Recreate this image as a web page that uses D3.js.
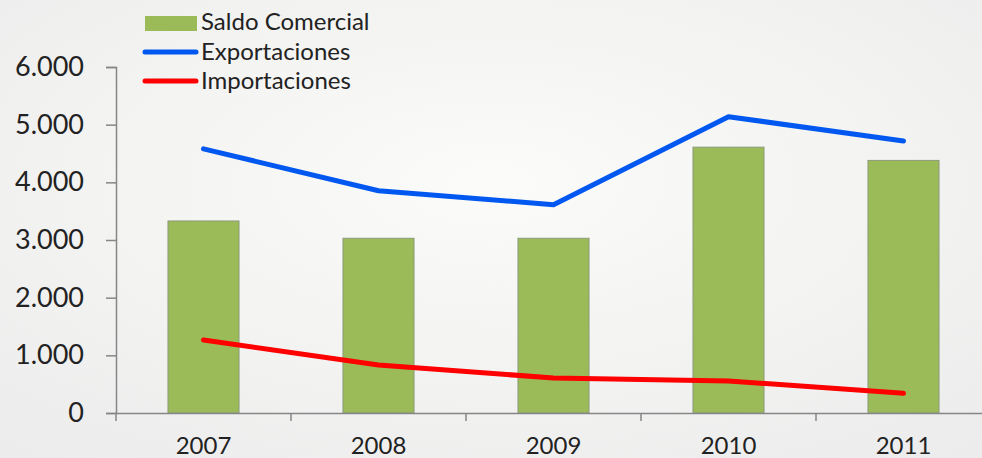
<!DOCTYPE html>
<html>
<head>
<meta charset="utf-8">
<script src="https://cdn.jsdelivr.net/npm/d3@7"></script>
<style>
  html, body { margin: 0; padding: 0; overflow: hidden; }
  svg { display: block; }
</style>
</head>
<body>
<svg id="chart"></svg>
<script>
// data
var years = ["2007", "2008", "2009", "2010", "2011"];
var saldo = [3330, 3030, 3030, 4610, 4380];
var exportaciones = [4580, 3855, 3612, 5138, 4717];
var importaciones = [1266, 832, 607, 555, 341];
var yTicks = [0, 1000, 2000, 3000, 4000, 5000, 6000];

var width = 982;
var height = 458;
var svg = d3.select("#chart")
    .attr("width", width)
    .attr("height", height)
    .style("font-family", "Lato, sans-serif");

// soft background like the original slide
var defs = svg.append("defs");
var grad = defs.append("radialGradient")
    .attr("id", "bg")
    .attr("cx", "50%").attr("cy", "40%").attr("r", "75%");
grad.append("stop").attr("offset", "0%").attr("stop-color", "#fbfbf9");
grad.append("stop").attr("offset", "100%").attr("stop-color", "#ececec");
svg.append("rect")
    .attr("width", width)
    .attr("height", height)
    .attr("fill", "url(#bg)");

var x = d3.scaleBand()
    .domain(years)
    .range([116, 991]);

var y = d3.scaleLinear()
    .domain([0, 6000])
    .range([413, 67]);

var barW = x.bandwidth() * 0.406;

// bars
svg.selectAll(".bar")
    .data(saldo)
    .join("rect")
    .attr("class", "bar")
    .attr("x", (d, i) => x(years[i]) + x.bandwidth() / 2 - barW / 2)
    .attr("y", d => y(d))
    .attr("width", barW)
    .attr("height", d => y(0) - y(d))
    .attr("fill", "#9bbb59")
    .attr("stroke", "#8c9a7a")
    .attr("stroke-width", 1);

// axes
var fmt = d => d === 0 ? "0" : d3.format(",")(d).replace(/,/g, ".");

var yAxis = svg.append("g")
    .attr("transform", "translate(116,0)")
    .call(d3.axisLeft(y).tickValues(yTicks).tickFormat(fmt).tickSize(10).tickPadding(22));
var xAxis = svg.append("g")
    .attr("transform", "translate(0,413)")
    .call(d3.axisBottom(x).tickSize(0).tickPadding(24));

// category boundary ticks
svg.selectAll(".xtick")
    .data(years)
    .join("line")
    .attr("class", "xtick")
    .attr("x1", d => x(d))
    .attr("x2", d => x(d))
    .attr("y1", 413)
    .attr("y2", 421)
    .attr("stroke", "#868686")
    .attr("stroke-width", 1.5);

[yAxis, xAxis].forEach(function (g) {
    g.select(".domain").attr("stroke", "#868686").attr("stroke-width", 1.5);
    g.selectAll(".tick line").attr("stroke", "#868686").attr("stroke-width", 1.5);
    g.selectAll("text").attr("fill", "#222").style("font-family", "Lato, sans-serif");
});
yAxis.selectAll("text").attr("font-size", 27);
xAxis.selectAll("text").attr("font-size", 24);

// lines
var line = d3.line()
    .x((d, i) => x(years[i]) + x.bandwidth() / 2)
    .y(d => y(d));

svg.append("path")
    .datum(exportaciones)
    .attr("d", line)
    .attr("fill", "none")
    .attr("stroke", "#0058f0")
    .attr("stroke-width", 5)
    .attr("stroke-linecap", "round")
    .attr("stroke-linejoin", "round");

svg.append("path")
    .datum(importaciones)
    .attr("d", line)
    .attr("fill", "none")
    .attr("stroke", "#ff0000")
    .attr("stroke-width", 5)
    .attr("stroke-linecap", "round")
    .attr("stroke-linejoin", "round");

// legend
var legend = svg.append("g");
legend.append("rect")
    .attr("x", 145).attr("y", 16)
    .attr("width", 52).attr("height", 15)
    .attr("fill", "#9bbb59");
legend.append("line")
    .attr("x1", 145).attr("x2", 196).attr("y1", 52).attr("y2", 52)
    .attr("stroke", "#0058f0").attr("stroke-width", 5).attr("stroke-linecap", "round");
legend.append("line")
    .attr("x1", 145).attr("x2", 196).attr("y1", 81).attr("y2", 81)
    .attr("stroke", "#ff0000").attr("stroke-width", 5).attr("stroke-linecap", "round");

var labels = ["Saldo Comercial", "Exportaciones", "Importaciones"];
legend.selectAll("text")
    .data(labels)
    .join("text")
    .attr("x", 201)
    .attr("y", (d, i) => 30 + i * 29.5)
    .attr("font-size", 24)
    .attr("fill", "#222")
    .text(d => d);
</script>
</body>
</html>
